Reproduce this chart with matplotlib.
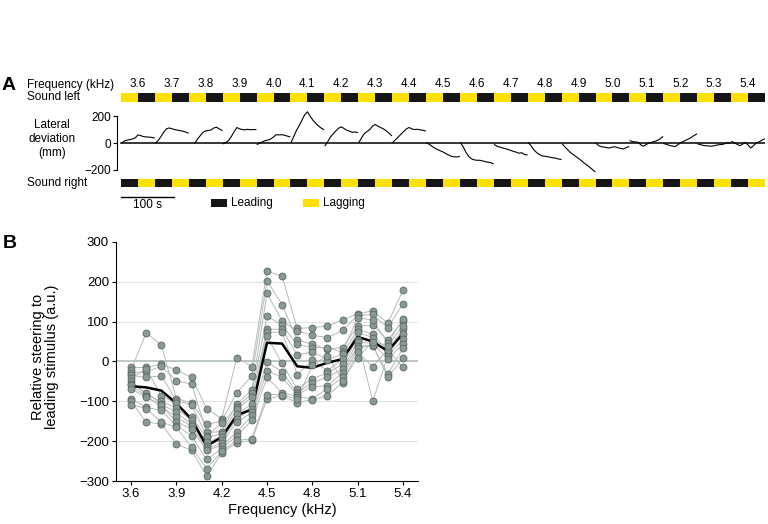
import numpy as np
import matplotlib.pyplot as plt
from matplotlib.patches import Rectangle
from matplotlib.transforms import blended_transform_factory

plt.rcParams['font.family'] = ['Liberation Sans', 'DejaVu Sans']
plt.rcParams['font.size'] = 8.5

# ---------------- data ----------------
freqs = [3.6, 3.7, 3.8, 3.9, 4.0, 4.1, 4.2, 4.3, 4.4, 4.5,
         4.6, 4.7, 4.8, 4.9, 5.0, 5.1, 5.2, 5.3, 5.4]
freq_labels = ['%.1f' % f for f in freqs]

seg_s = 32.0  # duration of one stimulus half (s)

# panel A: lateral deviation (mm) sampled through each frequency block
nan = np.nan
deviation_mm = [
    [0, 15, 22, 25, 30, 38, 60, 55, 48, 45, 44, 42, 38],
    [0, 20, 48, 80, 105, 112, 106, 100, 96, 92, 88, 82, 74],
    [nan, nan, 0, 30, 55, 80, 90, 93, 97, 112, 117, 105, 93],
    [-5, 5, 20, 50, 85, 115, 105, 100, 98, 102, 98, 100, 100],
    [-10, 0, 10, 18, 22, 30, 45, 62, 60, 62, 58, 52, 46],
    [5, 50, 95, 130, 170, 210, 232, 200, 170, 148, 128, 112, 100],
    [-20, 10, 45, 68, 90, 110, 120, 108, 95, 88, 80, 82, 78],
    [5, 40, 70, 85, 100, 125, 138, 125, 115, 105, 92, 75, 55],
    [5, 25, 45, 65, 85, 105, 115, 105, 100, 102, 98, 95, 90],
    [0, -10, -25, -38, -48, -58, -66, -78, -88, -98, -102, -104, -100],
    [0, -30, -70, -100, -117, -125, -128, -128, -132, -138, -142, -145, -154],
    [-12, -25, -30, -37, -42, -48, -55, -62, -68, -76, -72, -85, -88],
    [0, -20, -50, -70, -85, -95, -98, -102, -105, -110, -112, -118, -122],
    [-7, -30, -50, -70, -85, -100, -115, -130, -148, -162, -178, -195, -212],
    [-3, -20, -28, -30, -35, -37, -30, -28, -35, -40, -44, -35, -27],
    [17, 10, 8, 5, -15, -24, -10, 0, 5, 12, 18, 30, 46],
    [-5, -10, -18, -22, -27, -15, 0, 10, 20, 30, 40, 55, 66],
    [-7, -12, -18, -20, -22, -24, -20, -15, -12, -10, -5, 2, 0],
    [12, 0, -10, -20, -8, 5, -15, -37, -20, 0, 8, 20, 30],
]

# panel B: relative steering per animal (12 animals) at each frequency
steering = [
    [-15, -22, -28, -35, -42, -50, -56, -60, -68, -94, -100, -108],
    [-15, 72, -26, -40, -18, -83, -78, -86, -90, -115, -152, -118],
    [-7, 41, -12, -36, -86, -100, -107, -113, -110, -123, -157, -152],
    [-21, -93, -48, -98, -105, -117, -128, -140, -152, -161, -207, -165],
    [-40, -104, -57, -109, -140, -148, -157, -162, -169, -186, -223, -215],
    [-118, -158, -178, -186, -190, -203, -212, -218, -222, -246, -288, -269],
    [-144, -150, -176, -155, -182, -190, -196, -205, -211, -219, -229, -225],
    [10, -78, -107, -115, -120, -132, -144, -152, -178, -186, -204, -198],
    [-13, -36, -71, -79, -90, -107, -118, -128, -135, -148, -198, -194],
    [227, 202, 171, 114, 81, 73, 63, -1, -23, -40, -94, -83],
    [214, 143, 102, 91, 81, 74, -5, -26, -40, -78, -86, -83],
    [83, 54, 77, 43, 16, -33, -69, -78, -83, -88, -103, -95],
    [85, 43, 66, 35, 24, 3, -43, -53, -63, -94, -96, -10],
    [89, 31, 60, 35, 5, -23, -29, -40, -61, -68, -86, 15],
    [104, 35, 78, 23, 18, 6, -7, -19, -28, -40, -53, -48],
    [120, 89, 116, 110, 81, 73, 55, 48, 39, 33, 23, 10],
    [127, 91, 118, 104, 68, 60, -100, 46, 39, 42, -13, 50],
    [96, 54, 85, 46, 27, 20, 14, 6, -32, -40, 30, 40],
    [179, 102, 145, 107, 81, 68, 56, 43, 33, 8, -15, 90],
]
steering_mean = [-62, -65, -73, -105, -145, -212, -190, -135, -120, 47,
                 45, -12, -16, -3, 6, 62, 50, 26, 70]

# ---------------- layout helpers (pixels -> figure fraction) ----------------
W, H = 768, 524


def fx(x):
    return x / W


def fy(y):
    return 1 - y / H


def box(x0, y0, x1, y1):
    return [fx(x0), fy(y1), (x1 - x0) / W, (y1 - y0) / H]


YELLOW = '#ffe100'
BLACK = '#151515'

fig = plt.figure(figsize=(W / 100, H / 100), dpi=100)

# ---------------- panel A ----------------
n = len(freqs)
block_s = 2 * seg_s
total_s = n * block_s
starts = np.arange(n) * block_s
xlim = (-7.5, total_s)

ax_left = fig.add_axes(box(117, 92.7, 765, 101.7))
ax_tr = fig.add_axes(box(117, 108, 765, 174))
ax_right = fig.add_axes(box(117, 179, 765, 187.3))

for ax, first, second in [(ax_left, YELLOW, BLACK), (ax_right, BLACK, YELLOW)]:
    ax.bar(starts, 1, width=seg_s, align='edge', color=first, lw=0)
    ax.bar(starts + seg_s, 1, width=seg_s, align='edge', color=second, lw=0)
    ax.set_xlim(xlim)
    ax.set_ylim(0, 1)
    ax.axis('off')

tl = blended_transform_factory(ax_left.transData, ax_left.transAxes)
for s, lab in zip(starts, freq_labels):
    ax_left.text(s + seg_s, 1.97, lab, transform=tl, ha='center', va='center',
                 fontsize=8.5, clip_on=False)

frac = np.linspace(0.02, 0.98, 13)
for s, vals in zip(starts, deviation_mm):
    ax_tr.plot(s + frac * block_s, vals, color='k', lw=0.8)
ax_tr.plot([0, total_s], [0, 0], color='k', lw=1.1)
ax_tr.set_xlim(xlim)
ax_tr.set_ylim(-230, 260)
for sp in ['top', 'right', 'bottom']:
    ax_tr.spines[sp].set_visible(False)
ax_tr.spines['left'].set_bounds(-200, 200)
ax_tr.spines['left'].set_linewidth(0.8)
ax_tr.set_xticks([])
ax_tr.set_yticks([-200, 0, 200])
ax_tr.tick_params(axis='y', length=3, width=0.8, pad=1, labelsize=8.5)

tr = blended_transform_factory(ax_right.transData, ax_right.transAxes)
ax_right.plot([0, 100], [-1.13, -1.13], color='k', lw=1, transform=tr, clip_on=False)
ax_right.text(50, -2.13, '100 s', transform=tr, ha='center', va='center',
              fontsize=8.5, clip_on=False)

fig.text(fx(2), fy(85), 'A', fontsize=14, fontweight='bold', va='center', ha='left')
fig.text(fx(26.7), fy(85), 'Frequency (kHz)', va='center', ha='left')
fig.text(fx(26.7), fy(97), 'Sound left', va='center', ha='left')
fig.text(fx(26.7), fy(183), 'Sound right', va='center', ha='left')
fig.text(fx(52), fy(139), 'Lateral\ndeviation\n(mm)', va='center', ha='center',
         linespacing=1.25)

fig.patches.append(Rectangle((fx(210.7), fy(206.7)), 16 / W, 7.4 / H,
                             transform=fig.transFigure, color=BLACK, lw=0))
fig.text(fx(231), fy(203), 'Leading', va='center', ha='left')
fig.patches.append(Rectangle((fx(303), fy(206.7)), 16 / W, 7.4 / H,
                             transform=fig.transFigure, color=YELLOW, lw=0))
fig.text(fx(323), fy(203), 'Lagging', va='center', ha='left')

# ---------------- panel B ----------------
axb = fig.add_axes(box(116, 242, 418, 481))
data = np.array(steering)

for yv in [-200, -100, 100, 200]:
    axb.axhline(yv, color='#dfe4e3', lw=0.8, zorder=0)
axb.axhline(0, color='#b7c3c0', lw=1.3, zorder=0)

for j in range(data.shape[1]):
    axb.plot(freqs, data[:, j], color='#b4bbba', lw=0.7, zorder=1)
axb.plot(freqs, steering_mean, color='k', lw=1.8, zorder=2)
for j in range(data.shape[1]):
    axb.plot(freqs, data[:, j], ls='none', marker='o', ms=5,
             mfc='#8b9995', mec='#5c6865', mew=0.6, zorder=3)

axb.set_xlim(3.5, 5.5)
axb.set_ylim(-300, 300)
axb.set_xticks([3.6, 3.9, 4.2, 4.5, 4.8, 5.1, 5.4])
axb.set_xticklabels(['3.6', '3.9', '4.2', '4.5', '4.8', '5.1', '5.4'])
axb.set_yticks([-300, -200, -100, 0, 100, 200, 300])
axb.tick_params(length=3, width=0.8, labelsize=9.5, pad=2)
axb.spines['top'].set_visible(False)
axb.spines['right'].set_visible(False)
axb.spines['left'].set_linewidth(0.8)
axb.spines['bottom'].set_linewidth(0.8)

axb.set_xlabel('Frequency (kHz)', fontsize=10.5)
axb.xaxis.set_label_coords(0.55, -0.09)
axb.set_ylabel('Relative steering to\nleading stimulus (a.u.)', fontsize=10.5,
               linespacing=1.0)
axb.yaxis.set_label_coords(-0.19, 0.52)

fig.text(fx(3), fy(244), 'B', fontsize=14, fontweight='bold', va='center', ha='left')

fig.savefig('out.png', dpi=100)
